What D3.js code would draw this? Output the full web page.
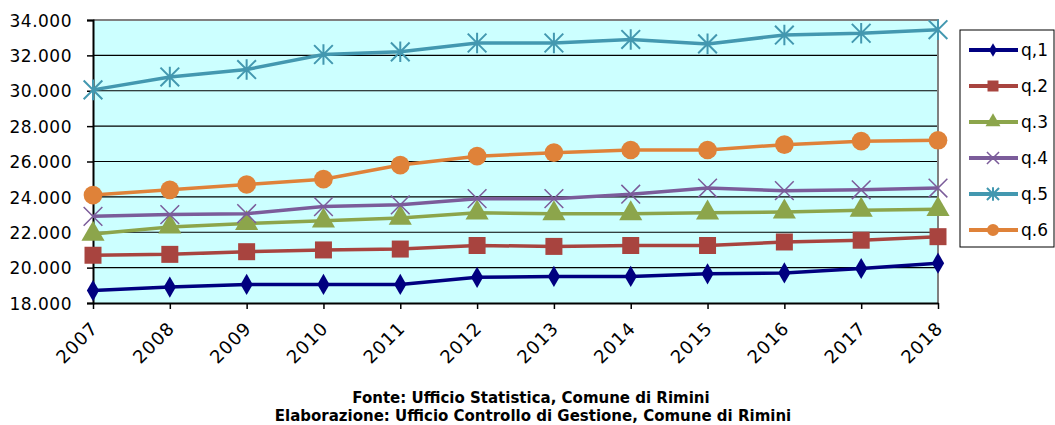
<!DOCTYPE html>
<html>
<head>
<meta charset="utf-8">
<script src="https://cdn.jsdelivr.net/npm/d3@7"></script>
<style>
body { margin:0; background:#fff; }
text { font-family:"DejaVu Sans", Verdana, sans-serif; }
</style>
</head>
<body>
<div id="chart"></div>
<script>
var svgWidth = 1055;
var svgHeight = 425;

// data
var years = [2007, 2008, 2009, 2010, 2011, 2012, 2013, 2014, 2015, 2016, 2017, 2018];
var q1 = [18700, 18900, 19050, 19050, 19050, 19450, 19500, 19500, 19650, 19700, 19950, 20250];
var q2 = [20700, 20750, 20900, 21000, 21050, 21250, 21200, 21250, 21250, 21450, 21550, 21750];
var q3 = [21900, 22300, 22500, 22650, 22800, 23100, 23050, 23050, 23100, 23150, 23250, 23300];
var q4 = [22900, 23000, 23050, 23450, 23550, 23900, 23900, 24150, 24500, 24350, 24400, 24500];
var q5 = [30050, 30780, 31200, 32050, 32200, 32700, 32700, 32900, 32650, 33150, 33250, 33450];
var q6 = [24100, 24400, 24700, 25000, 25800, 26300, 26500, 26650, 26650, 26950, 27150, 27200];
var seriesNames = ["q,1", "q.2", "q.3", "q.4", "q.5", "q.6"];
var yTicks = [18000, 20000, 22000, 24000, 26000, 28000, 30000, 32000, 34000];

var colors = ["#000080", "#A8443F", "#8CA54B", "#7B5C9A", "#4398B0", "#DF8239"];
var symbols = ["diamond", "square", "triangle", "x", "star", "circle"];

var series = [q1, q2, q3, q4, q5, q6].map(function(vals, i) {
    return { name: seriesNames[i], values: vals, color: colors[i], symbol: symbols[i] };
});

var margin = { left: 93, top: 20, right: 117, bottom: 122 };
var width = svgWidth - margin.left - margin.right;   // 845
var height = svgHeight - margin.top - margin.bottom; // 283

var svg = d3.select("#chart").append("svg")
    .attr("width", svgWidth)
    .attr("height", svgHeight);

var chart = svg.append("g")
    .attr("transform", "translate(" + margin.left + "," + margin.top + ")");

var x = d3.scalePoint().domain(years).range([0, width]);
var y = d3.scaleLinear().domain([18000, 34000]).range([height, 0]);

// plot background
chart.append("rect")
    .attr("width", width).attr("height", height)
    .attr("fill", "#CCFFFF");

// gridlines
chart.append("g").selectAll("line")
    .data(yTicks.slice(1, -1))
    .enter().append("line")
    .attr("x1", 0).attr("x2", width)
    .attr("y1", function(d) { return y(d); })
    .attr("y2", function(d) { return y(d); })
    .attr("stroke", "#000").attr("stroke-width", 1.2);

// top + right border grey
chart.append("path")
    .attr("d", "M0," + y(34000) + "H" + width + "V" + height)
    .attr("fill", "none").attr("stroke", "#808080").attr("stroke-width", 2);

var fmt = function(d) { return d3.format(",")(d).replace(/,/g, "."); };

// y axis
var leftAxis = d3.axisLeft(y).tickValues(yTicks).tickFormat(fmt).tickSize(6).tickPadding(15);
var gy = chart.append("g").call(leftAxis);
gy.select(".domain").attr("stroke", "#000").attr("stroke-width", 2);
gy.selectAll(".tick line").attr("stroke", "#000").attr("stroke-width", 1.5);
gy.selectAll("text")
    .style("font-size", "17px").style("letter-spacing", "0.5px")
    .attr("fill", "#000").attr("dy", "0.36em");

// x axis
var bottomAxis = d3.axisBottom(x).tickSize(6).tickSizeOuter(0);
var gx = chart.append("g").attr("transform", "translate(0," + height + ")").call(bottomAxis);
gx.select(".domain").attr("stroke", "#000").attr("stroke-width", 2);
gx.selectAll(".tick line").attr("stroke", "#000").attr("stroke-width", 1.5);
gx.selectAll("text")
    .style("font-size", "18px").style("letter-spacing", "1px")
    .attr("fill", "#000")
    .attr("text-anchor", "end")
    .attr("dy", "0.35em")
    .attr("transform", "translate(1,22) rotate(-45)")
    .attr("x", 0).attr("y", 0);

// marker drawing
function drawMarker(g, s, size) {
    if (s.symbol === "x") {
        var r = size * 0.55;
        g.append("path")
            .attr("d", "M" + (-r) + "," + (-r) + "L" + r + "," + r + "M" + (-r) + "," + r + "L" + r + "," + (-r))
            .attr("stroke", s.color).attr("stroke-width", 1.5).attr("fill", "none");
    } else if (s.symbol === "star") {
        var r2 = size * 0.55;
        g.append("path")
            .attr("d", "M" + (-r2) + "," + (-r2) + "L" + r2 + "," + r2 + "M" + (-r2) + "," + r2 + "L" + r2 + "," + (-r2) +
                "M0," + (-r2 * 1.1) + "V" + (r2 * 1.1))
            .attr("stroke", s.color).attr("stroke-width", 2).attr("fill", "none");
    } else {
        var t = { diamond: d3.symbolDiamond, square: d3.symbolSquare, triangle: d3.symbolTriangle, circle: d3.symbolCircle }[s.symbol];
        var area = { diamond: size * size * 0.45, square: size * size * 1.0, triangle: size * size * 0.8, circle: size * size * 0.95 }[s.symbol];
        g.append("path")
            .attr("d", d3.symbol().type(t).size(area)())
            .attr("fill", s.color);
    }
}

var line = d3.line()
    .x(function(d, i) { return x(years[i]); })
    .y(function(d) { return y(d); });

series.forEach(function(s) {
    var g = chart.append("g");
    g.append("path")
        .datum(s.values)
        .attr("d", line)
        .attr("fill", "none")
        .attr("stroke", s.color)
        .attr("stroke-width", 3.5);
    s.values.forEach(function(v, i) {
        var m = g.append("g").attr("transform", "translate(" + x(years[i]) + "," + y(v) + ")");
        drawMarker(m, s, 17);
    });
});

// legend
var legend = svg.append("g").attr("transform", "translate(960,30)");
legend.append("rect")
    .attr("width", 94).attr("height", 217)
    .attr("fill", "#fff").attr("stroke", "#000").attr("stroke-width", 1);

var legendY = d3.scalePoint().domain(seriesNames).range([20, 200]);
series.forEach(function(s) {
    var li = legend.append("g").attr("transform", "translate(0," + legendY(s.name) + ")");
    li.append("line")
        .attr("x1", 9).attr("x2", 58)
        .attr("stroke", s.color).attr("stroke-width", 4);
    var m = li.append("g").attr("transform", "translate(33,0)");
    drawMarker(m, s, 11);
    li.append("text")
        .attr("x", 61).attr("y", 0).attr("dy", "0.36em")
        .style("font-size", "17px")
        .text(s.name);
});

// footer
svg.append("text")
    .attr("x", 531).attr("y", 403)
    .attr("text-anchor", "middle")
    .style("font-size", "15px")
    .style("font-weight", "bold")
    .text("Fonte: Ufficio Statistica, Comune di Rimini");
svg.append("text")
    .attr("x", 533).attr("y", 421)
    .attr("text-anchor", "middle")
    .style("font-size", "15px")
    .style("font-weight", "bold")
    .text("Elaborazione: Ufficio Controllo di Gestione, Comune di Rimini");
</script>
</body>
</html>
